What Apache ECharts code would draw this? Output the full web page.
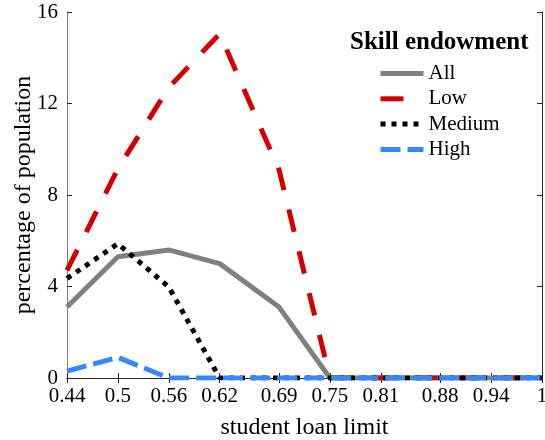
<!DOCTYPE html>
<html>
<head>
<meta charset="utf-8">
<script src="https://cdn.jsdelivr.net/npm/echarts@6/dist/echarts.min.js"></script>
<style>
  html, body { margin: 0; padding: 0; background: #fff; }
  #chart { width: 545px; height: 440px; }
</style>
</head>
<body>
<div id="chart"></div>
<script>
// student loan limit grid (x values, also used as tick positions)
var loanLimit = [0.44, 0.5, 0.56, 0.62, 0.69, 0.75, 0.81, 0.88, 0.94, 1];
// percentage of population by skill endowment
var allSkill = [3.1, 5.3, 5.6, 5.0, 3.1, 0, 0, 0, 0, 0];
var lowSkill = [4.7, 9.15, 12.7, 15.05, 9.1, 0, 0, 0, 0, 0];
var mediumSkill = [4.35, 5.87, 3.98, 0, 0, 0, 0, 0, 0, 0];
var highSkill = [0.3, 0.9, 0, 0, 0, 0, 0, 0, 0, 0];
var yTicks = [0, 4, 8, 12, 16];

function pairs(ys) {
  return ys.map(function (y, i) { return [loanLimit[i], y]; });
}

var chart = echarts.init(document.getElementById("chart"));
var font = "Liberation Serif";
var axisColor = "#262626";

var option = {
  animation: false,
  title: {
    text: "Skill endowment",
    left: 345,
    top: 25,
    textStyle: { fontFamily: font, fontSize: 25, fontWeight: "bold", color: "#000" },
  },
  legend: {
    orient: "vertical",
    left: 373,
    top: 58,
    itemWidth: 43,
    itemHeight: 20,
    itemGap: 4.3,
    itemStyle: { opacity: 0 },
    lineStyle: { width: 5, cap: "butt" },
    textStyle: { fontFamily: font, fontSize: 21, color: "#000" },
    data: ["All", "Low", "Medium", "High"],
  },
  grid: { left: 67, right: 3, top: 12, bottom: 62, outerBoundsMode: "none" },
  xAxis: [
    {
      type: "value",
      min: 0.44,
      max: 1,
      name: "student loan limit",
      nameLocation: "middle",
      nameGap: 38,
      nameMoveOverlap: false,
      nameTextStyle: { fontFamily: font, fontSize: 24, color: "#000" },
      axisLine: { lineStyle: { color: axisColor, width: 1 } },
      axisTick: { inside: true, length: 5, customValues: loanLimit, lineStyle: { color: axisColor } },
      axisLabel: {
        customValues: loanLimit,
        margin: 8,
        fontFamily: font,
        fontSize: 21,
        color: "#000",
      },
      splitLine: { show: false },
    },
    {
      type: "value",
      position: "top",
      min: 0.44,
      max: 1,
      axisLine: { lineStyle: { color: axisColor, width: 1 } },
      axisTick: { inside: true, length: 5, customValues: loanLimit, lineStyle: { color: axisColor } },
      axisLabel: { show: false },
      splitLine: { show: false },
    },
  ],
  yAxis: [
    {
      type: "value",
      min: 0,
      max: 16,
      interval: 4,
      name: "percentage of population",
      nameLocation: "middle",
      nameGap: 31,
      nameMoveOverlap: false,
      nameTextStyle: { fontFamily: font, fontSize: 24, color: "#000" },
      axisLine: { show: true, lineStyle: { color: "#808080", width: 1 } },
      axisTick: { show: true, inside: true, length: 5, lineStyle: { color: axisColor } },
      axisLabel: {
        customValues: yTicks,
        margin: 9,
        fontFamily: font,
        fontSize: 21,
        color: "#000",
      },
      splitLine: { show: false },
    },
    {
      type: "value",
      position: "right",
      min: 0,
      max: 16,
      interval: 4,
      axisLine: { show: true, lineStyle: { color: axisColor, width: 1 } },
      axisTick: { show: true, inside: true, length: 5, lineStyle: { color: axisColor } },
      axisLabel: { show: false },
      splitLine: { show: false },
    },
  ],
  series: [
    {
      name: "All",
      type: "line",
      symbol: "none",
      data: pairs(allSkill),
      lineStyle: { color: "#808080", width: 5, cap: "butt" },
      itemStyle: { color: "#808080" },
    },
    {
      name: "Low",
      type: "line",
      symbol: "none",
      data: pairs(lowSkill),
      lineStyle: { color: "#d40000", width: 5, type: [23, 20], cap: "butt" },
      itemStyle: { color: "#d40000" },
    },
    {
      name: "Medium",
      type: "line",
      symbol: "none",
      data: pairs(mediumSkill),
      lineStyle: { color: "#000000", width: 5, type: [5, 6], cap: "butt" },
      itemStyle: { color: "#000000" },
    },
    {
      name: "High",
      type: "line",
      symbol: "none",
      data: pairs(highSkill),
      lineStyle: { color: "#3388ff", width: 5, type: [20, 7], cap: "butt" },
      itemStyle: { color: "#3388ff" },
    },
  ],
};

chart.setOption(option);
</script>
</body>
</html>
